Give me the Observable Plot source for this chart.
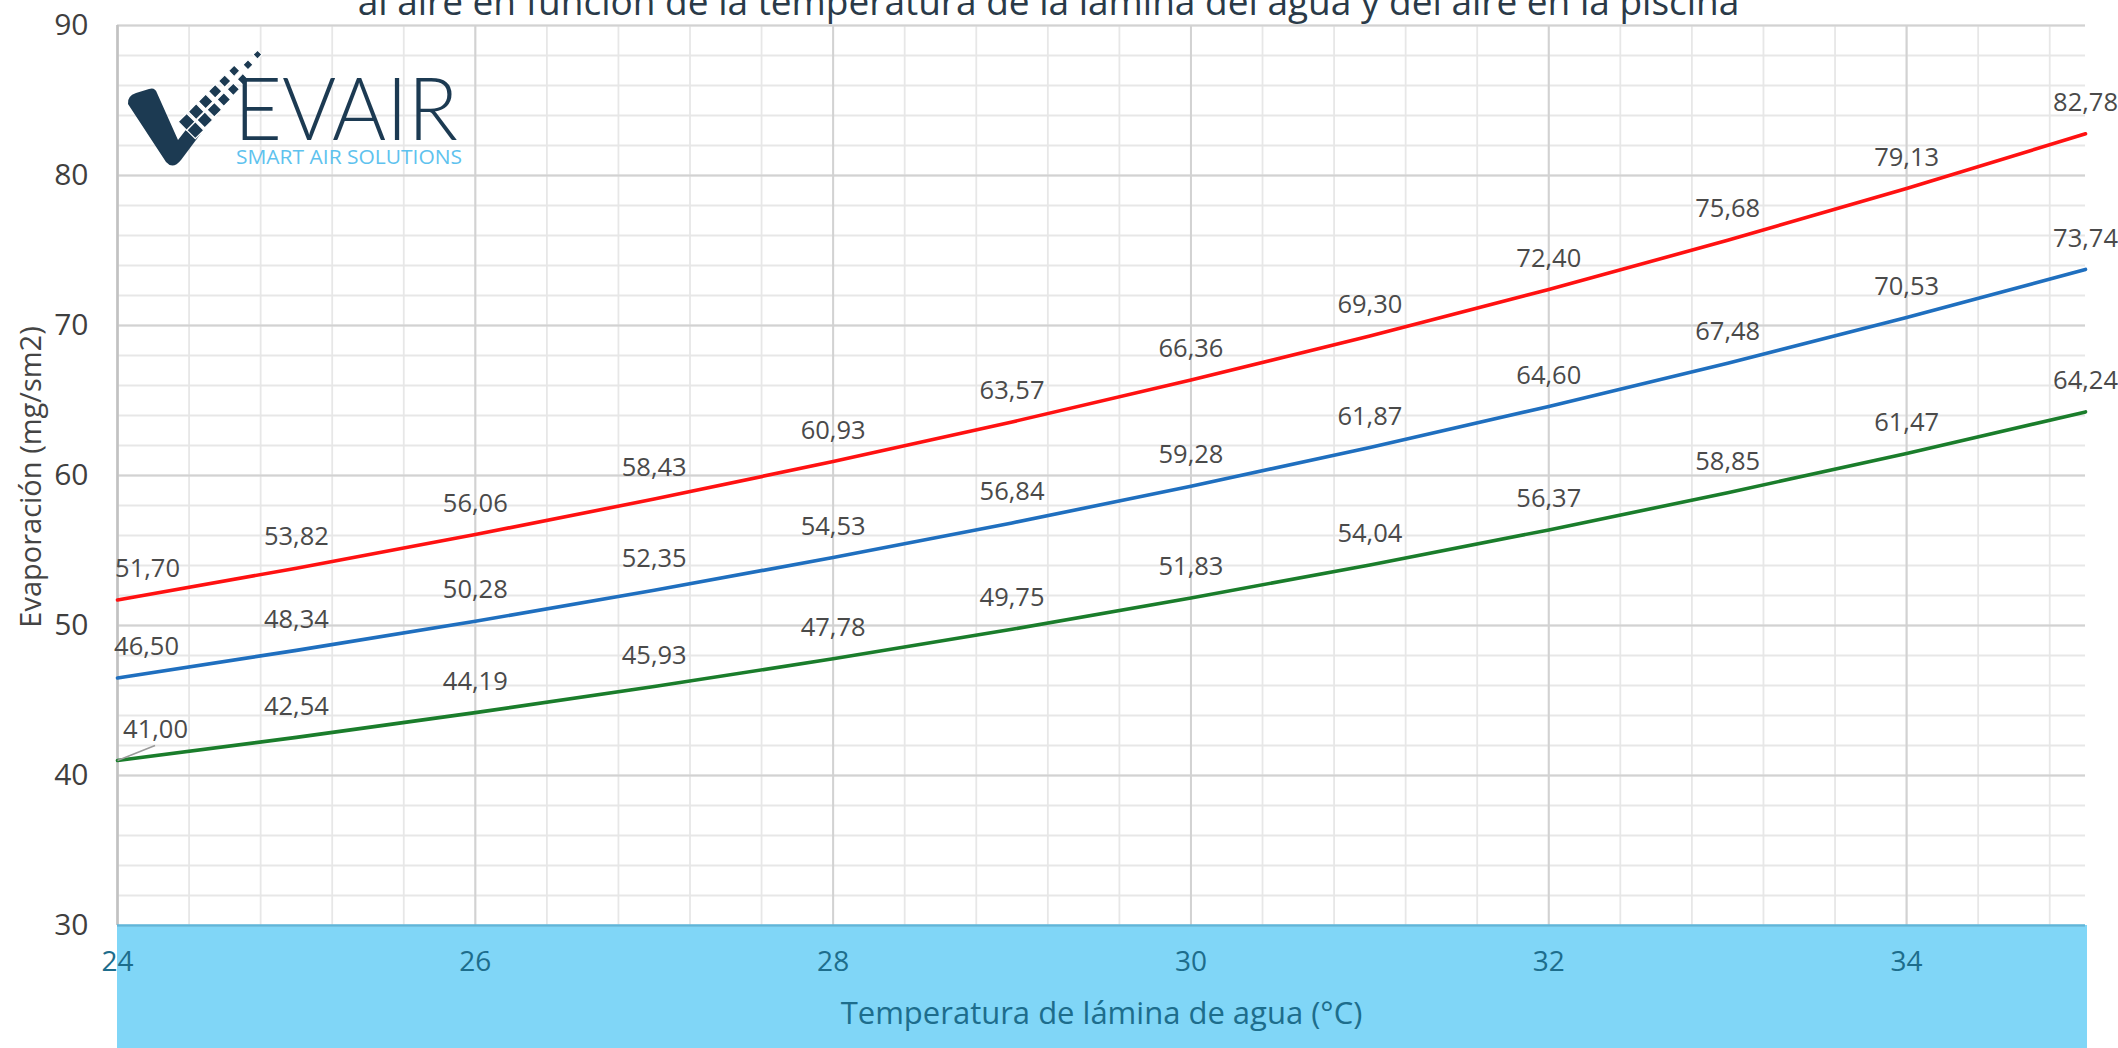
<!DOCTYPE html>
<html>
<head>
<meta charset="utf-8">
<script src="https://cdn.jsdelivr.net/npm/d3@7"></script>
<script src="https://cdn.jsdelivr.net/npm/@observablehq/plot@0.6"></script>
<style>
  html, body { margin: 0; padding: 0; background: #ffffff; overflow: hidden; }
  #chart { position: relative; width: 2118px; height: 1048px; }
</style>
</head>
<body>
<div id="chart"></div>
<script>
// ---- Data ----
const temps = [24, 25, 26, 27, 28, 29, 30, 31, 32, 33, 34, 35];
const evapRed   = [51.70, 53.82, 56.06, 58.43, 60.93, 63.57, 66.36, 69.30, 72.40, 75.68, 79.13, 82.78];
const evapBlue  = [46.50, 48.34, 50.28, 52.35, 54.53, 56.84, 59.28, 61.87, 64.60, 67.48, 70.53, 73.74];
const evapGreen = [41.00, 42.54, 44.19, 45.93, 47.78, 49.75, 51.83, 54.04, 56.37, 58.85, 61.47, 64.24];
const seriesKeys = ["rojo", "azul", "verde"];
const seriesColors = ["#ff1111", "#1f6fbf", "#1a7d2b"];
const xTicks = [24, 26, 28, 30, 32, 34];
const yTicks = [30, 40, 50, 60, 70, 80, 90];
const titleText = "al aire en función de la temperatura de la lámina del agua y del aire en la piscina";
const xLabel = "Temperatura de lámina de agua (°C)";
const yLabel = "Evaporación (mg/sm2)";

const seriesValues = [evapRed, evapBlue, evapGreen];
const rows = [];
seriesKeys.forEach((k, si) => {
  temps.forEach((t, i) => rows.push({ series: k, temp: t, value: seriesValues[si][i], idx: i }));
});
const fmt = v => v.toFixed(2).replace(".", ",");

const W = 2118, H = 1048;
const mL = 117, mR = 33, mT = 25, mB = 123;

const minorX = d3.range(24, 35, 0.4).map(v => +v.toFixed(1));
const minorY = d3.range(30, 91, 2);

const labelFont = "'Open Sans', 'Noto Sans', sans-serif";

const firstShift = { rojo: 30, azul: 29, verde: 38 };

const marks = [
  Plot.ruleY(minorY, { y: d => d, stroke: "#e7e7e7", strokeWidth: 1.8 }),
  Plot.ruleX(minorX, { x: d => d, stroke: "#e7e7e7", strokeWidth: 1.8 }),
  Plot.ruleY(yTicks.filter(d => d > 30), { y: d => d, stroke: "#d2d2d2", strokeWidth: 2 }),
  Plot.ruleX(xTicks, { x: d => d, stroke: "#d2d2d2", strokeWidth: 2 }),
  Plot.ruleX([24], { x: d => d, stroke: "#c2c2c2", strokeWidth: 2.5 }),
  Plot.ruleY([30], { y: d => d, stroke: "#5fb6da", strokeWidth: 2.5 }),
];

seriesKeys.forEach((k, si) => {
  const data = rows.filter(r => r.series === k);
  marks.push(Plot.line(data, { x: "temp", y: "value", stroke: seriesColors[si], strokeWidth: 3.6, curve: "monotone-x" }));
});

// value labels
marks.push(Plot.text(rows.filter(r => r.idx > 0), {
  x: "temp", y: "value", text: d => fmt(d.value), dy: -31,
  fontSize: 25.5, fill: "#4a4a4a", fontFamily: labelFont
}));
seriesKeys.forEach(k => {
  const first = rows.filter(r => r.series === k && r.idx === 0);
  marks.push(Plot.text(first, {
    x: "temp", y: "value", text: d => fmt(d.value), dy: -31, dx: firstShift[k],
    fontSize: 25.5, fill: "#4a4a4a", fontFamily: labelFont
  }));
});
// leader line for the first green label
const greenFirst = rows.filter(r => r.series === "verde" && r.idx === 0);
marks.push(Plot.link(greenFirst, {
  x1: "temp", y1: "value", x2: d => d.temp + 0.21, y2: d => d.value + 1.0,
  stroke: "#9a9a9a", strokeWidth: 1.5
}));

// tick labels
marks.push(Plot.text(xTicks, {
  x: d => d, frameAnchor: "bottom", dy: 45, text: d => String(d),
  fontSize: 28, fill: "#1d6d8c", fontFamily: labelFont
}));
marks.push(Plot.text(yTicks, {
  y: d => d, frameAnchor: "left", dx: -29, textAnchor: "end", text: d => String(d),
  fontSize: 30, fill: "#3f3f3f", fontFamily: labelFont
}));
// x axis label
marks.push(Plot.text([xLabel], {
  frameAnchor: "bottom", dy: 98, text: d => d,
  fontSize: 31, fill: "#1d6d8c", fontFamily: labelFont
}));
// title (second line of the title, mostly above the view)
marks.push(Plot.text([titleText], {
  frameAnchor: "top", dy: -37, dx: -53, text: d => d,
  fontSize: 37, fill: "#2a3a48", fontFamily: labelFont
}));

const svg = Plot.plot({
  width: W,
  height: H,
  marginLeft: mL,
  marginRight: mR,
  marginTop: mT,
  marginBottom: mB,
  x: { domain: [24, 35], axis: null },
  y: { domain: [30, 90], axis: null },
  style: { fontFamily: labelFont, background: "#ffffff", overflow: "hidden" },
  marks
});

// blue band under the plot area
d3.select(svg).insert("rect", ":first-child")
  .attr("x", mL).attr("y", H - mB)
  .attr("width", W - mL - mR + 2).attr("height", mB)
  .attr("fill", "#80d6f7");

// y axis label (rotated)
d3.select(svg).append("text")
  .text(yLabel)
  .attr("transform", `translate(29, ${mT + (H - mT - mB) / 2 + 2}) rotate(-90)`)
  .attr("text-anchor", "middle")
  .attr("dominant-baseline", "central")
  .attr("font-size", 29)
  .attr("font-family", labelFont)
  .attr("fill", "#444444");

// logo (decorative)
const logo = d3.select(svg).append("g").attr("aria-label", "logo").attr("text-anchor", "start");
logo.append("path")
  .attr("d", "M128,104 Q127,96 136,93 L149,89 Q155,87 157,93 L178,140 L192,122 L202,132 L181,160 Q173,170 166,162 Z")
  .attr("fill", "#1c3a52");
for (let i = 0; i < 8; i++) {
  const bx = 191 + 9.5 * i, by = 126 - 10.2 * i;
  const offs = i < 6 ? [-6, 6] : [0];
  offs.forEach(o => {
    const cx = bx + o * 0.72, cy = by + o * 0.69, s = 12 - i * 0.8;
    logo.append("rect")
      .attr("x", cx - s / 2).attr("y", cy - s / 2).attr("width", s).attr("height", s)
      .attr("transform", `rotate(45 ${cx} ${cy})`)
      .attr("fill", "#1c3a52").attr("stroke", "#ffffff").attr("stroke-width", 1.2);
  });
}
logo.append("text").text("EVAIR")
  .attr("x", 234).attr("y", 140)
  .attr("text-anchor", "start")
  .attr("font-size", 86).attr("font-family", "Lato, 'Open Sans', sans-serif").attr("font-weight", 300)
  .attr("textLength", 224).attr("lengthAdjust", "spacingAndGlyphs")
  .attr("fill", "#1c3a52");
logo.append("text").text("SMART AIR SOLUTIONS")
  .attr("x", 236).attr("y", 164)
  .attr("text-anchor", "start")
  .attr("font-size", 20).attr("font-family", "'Open Sans', sans-serif")
  .attr("textLength", 226).attr("lengthAdjust", "spacingAndGlyphs")
  .attr("fill", "#5ec2ee");

document.getElementById("chart").appendChild(svg);
</script>
</body>
</html>
